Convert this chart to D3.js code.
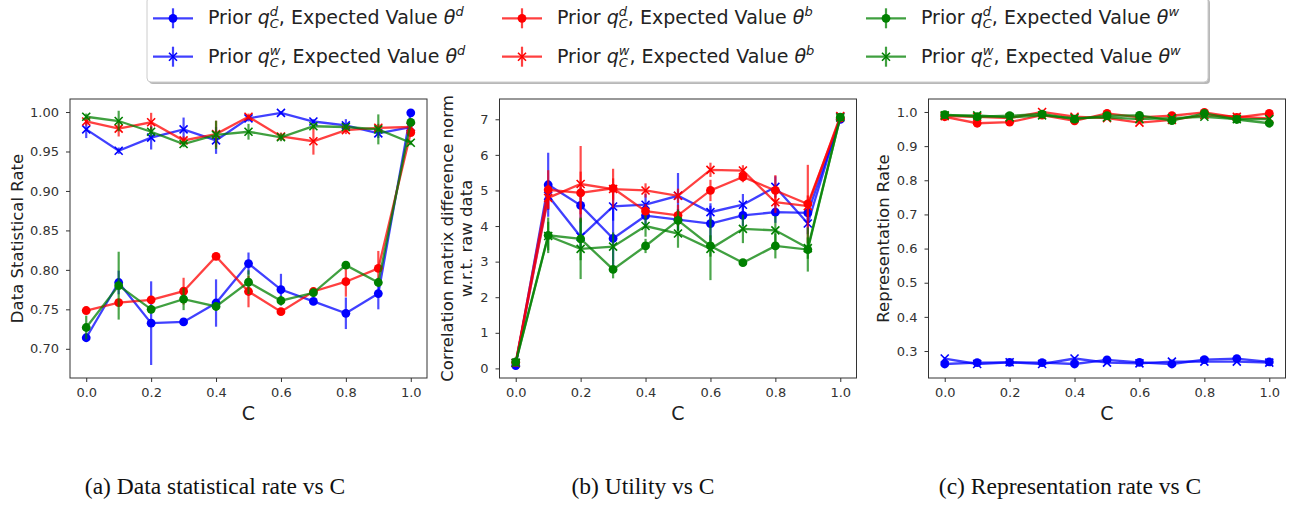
<!DOCTYPE html>
<html>
<head>
<meta charset="utf-8">
<title>Rate / Utility vs C</title>
<script src="https://cdn.jsdelivr.net/npm/d3@7"></script>
<style>
  *{margin:0;padding:0;}
  body{background:#fff;}
  svg{display:block;}
</style>
</head>
<body>
<div id="show"></div>
<script>
// x values shared by every panel
var C = [0, 0.1, 0.2, 0.3, 0.4, 0.5, 0.6, 0.7, 0.8, 0.9, 1.0];
var xTicks = [0, 0.2, 0.4, 0.6, 0.8, 1.0];

// (a) data statistical rate
var dsrBD = [0.714, 0.784, 0.7325, 0.734, 0.758, 0.808, 0.775, 0.760, 0.745, 0.770, 0.999];
var dsrBW = [0.978, 0.951, 0.9675, 0.978, 0.964, 0.992, 0.999, 0.988, 0.983, 0.973, 0.981];
var dsrRD = [0.7485, 0.7586, 0.762, 0.773, 0.817, 0.7726, 0.747, 0.7726, 0.785, 0.802, 0.974];
var dsrRW = [0.988, 0.979, 0.987, 0.964, 0.972, 0.994, 0.969, 0.963, 0.977, 0.980, 0.981];
var dsrGD = [0.727, 0.780, 0.750, 0.763, 0.7536, 0.7844, 0.761, 0.771, 0.806, 0.784, 0.987];
var dsrGW = [0.994, 0.9886, 0.975, 0.9595, 0.971, 0.975, 0.968, 0.982, 0.981, 0.978, 0.961];
var dsrErrBD = [0.005, 0.015, 0.053, 0.004, 0.03, 0.014, 0.02, 0.004, 0.02, 0.02, 0.002];
var dsrErrBW = [0.011, 0.004, 0.015, 0.015, 0.017, 0.004, 0.002, 0.003, 0.008, 0.006, 0.002];
var dsrErrRD = [0.003, 0.004, 0.004, 0.017, 0.003, 0.02, 0.004, 0.003, 0.019, 0.022, 0.004];
var dsrErrRW = [0.005, 0.01, 0.012, 0.005, 0.017, 0.004, 0.005, 0.017, 0.005, 0.005, 0.003];
var dsrErrGD = [0.015, 0.043, 0.005, 0.014, 0.005, 0.015, 0.006, 0.004, 0.004, 0.005, 0.004];
var dsrErrGW = [0.004, 0.013, 0.006, 0.004, 0.018, 0.01, 0.005, 0.004, 0.004, 0.019, 0.003];
var dsrTicks = [0.70, 0.75, 0.80, 0.85, 0.90, 0.95, 1.00];

// (b) utility
var utBD = [0.08, 5.16, 4.58, 3.65, 4.29, 4.18, 4.07, 4.30, 4.39, 4.37, 7.0];
var utBW = [0.15, 4.85, 3.70, 4.55, 4.60, 4.85, 4.39, 4.60, 5.10, 4.07, 7.07];
var utRD = [0.17, 5.02, 4.93, 5.06, 4.42, 4.30, 5.00, 5.38, 5.00, 4.62, 7.03];
var utRW = [0.15, 4.79, 5.18, 5.04, 5.00, 4.85, 5.58, 5.56, 4.67, 4.56, 7.09];
var utGD = [0.18, 3.74, 3.64, 2.78, 3.44, 4.16, 3.44, 2.97, 3.44, 3.34, 7.06];
var utGW = [0.16, 3.72, 3.36, 3.42, 4.00, 3.79, 3.36, 3.92, 3.88, 3.38, 7.05];
var utErrBD = [0.05, 0.9, 0.5, 0.9, 0.35, 0.3, 0.5, 0.3, 0.3, 0.25, 0.05];
var utErrBW = [0.05, 0.4, 0.4, 0.4, 0.3, 0.64, 0.25, 0.3, 0.3, 0.3, 0.05];
var utErrRD = [0.05, 0.55, 0.6, 0.55, 0.2, 0.3, 0.3, 0.15, 0.43, 1.1, 0.05];
var utErrRW = [0.05, 0.3, 1.07, 0.3, 0.2, 0.2, 0.2, 0.15, 0.3, 0.3, 0.05];
var utErrGD = [0.05, 0.5, 0.6, 0.25, 0.2, 0.3, 0.3, 0.1, 0.35, 0.62, 0.05];
var utErrGW = [0.05, 0.4, 0.85, 0.4, 0.3, 0.4, 0.88, 0.4, 0.4, 0.3, 0.05];
var utTicks = [0, 1, 2, 3, 4, 5, 6, 7];

// (c) representation rate
var rrBD = [0.262, 0.266, 0.267, 0.266, 0.262, 0.274, 0.267, 0.262, 0.275, 0.278, 0.268];
var rrBW = [0.278, 0.262, 0.267, 0.262, 0.278, 0.266, 0.264, 0.269, 0.269, 0.269, 0.266];
var rrRD = [0.986, 0.967, 0.970, 0.991, 0.974, 0.996, 0.984, 0.989, 0.999, 0.984, 0.996];
var rrRW = [0.988, 0.986, 0.982, 1.000, 0.986, 0.982, 0.969, 0.977, 0.991, 0.986, 0.981];
var rrGD = [0.992, 0.986, 0.989, 0.994, 0.979, 0.989, 0.990, 0.975, 0.996, 0.978, 0.967];
var rrGW = [0.990, 0.990, 0.984, 0.990, 0.982, 0.984, 0.979, 0.982, 0.986, 0.979, 0.979];
var rrErr = [0.004, 0.004, 0.004, 0.004, 0.004, 0.004, 0.004, 0.004, 0.004, 0.004, 0.004];
var rrTicks = [0.3, 0.4, 0.5, 0.6, 0.7, 0.8, 0.9, 1.0];

// legend entries: colour, marker, prior superscript, theta superscript
var seriesColors = ["#0000ff", "#0000ff", "#ff0000", "#ff0000", "#008000", "#008000"];
var seriesMarkers = ["o", "x", "o", "x", "o", "x"];
var priorSup = ["d", "w", "d", "w", "d", "w"];
var thetaSup = ["d", "d", "b", "b", "w", "w"];

var captions = ["(a) Data statistical rate vs C", "(b) Utility vs C", "(c) Representation rate vs C"];

var svg = d3.select("#show").append("svg")
            .attr("width", 1292)
            .attr("height", 507);
svg.append("rect").attr("width", 1292).attr("height", 507).attr("fill", "#fff");

var top_ = 99, bottom_ = 378;

function drawMarker(g, type, color) {
       if (type == "o") {
              g.append("circle").attr("r", 4.4).attr("fill", color);
       } else {
              g.append("path").attr("d", "M-4,-4L4,4M-4,4L4,-4")
                     .attr("stroke", color).attr("stroke-width", 1.6).attr("fill", "none");
       }
}

function drawPanel(p) {
       var x = d3.scaleLinear().domain([-0.05, 1.05]).range([p.left, p.right]);
       var y = d3.scaleLinear().domain(p.ydom).range([bottom_, top_]);
       var g = svg.append("g");

       // series: error bars, line, markers
       p.series.forEach(function (vals, si) {
              var col = seriesColors[si];
              var errs = p.errs[si];
              var sg = g.append("g");
              sg.selectAll("line.err").data(vals).enter().append("line")
                     .attr("x1", function (d, i) { return x(C[i]); })
                     .attr("x2", function (d, i) { return x(C[i]); })
                     .attr("y1", function (d, i) { return y(d - errs[i]); })
                     .attr("y2", function (d, i) { return y(d + errs[i]); })
                     .attr("stroke", col).attr("stroke-width", 2.2).attr("stroke-opacity", 0.7);
              var line = d3.line().x(function (d, i) { return x(C[i]); }).y(function (d) { return y(d); });
              sg.append("path").attr("d", line(vals)).attr("fill", "none")
                     .attr("stroke", col).attr("stroke-width", 2.3).attr("stroke-opacity", 0.75);
              vals.forEach(function (d, i) {
                     var mg = sg.append("g").attr("transform", "translate(" + x(C[i]) + "," + y(d) + ")");
                     drawMarker(mg, seriesMarkers[si], col);
              });
       });

       // frame
       g.append("rect").attr("x", p.left).attr("y", top_)
              .attr("width", p.right - p.left).attr("height", bottom_ - top_)
              .attr("fill", "none").attr("stroke", "#333").attr("stroke-width", 1);

       var xa = g.append("g").attr("transform", "translate(0," + bottom_ + ")")
              .call(d3.axisBottom(x).tickValues(xTicks).tickFormat(d3.format(".1f")).tickSize(4).tickPadding(6));
       var ya = g.append("g").attr("transform", "translate(" + p.left + ",0)")
              .call(d3.axisLeft(y).tickValues(p.yticks).tickFormat(d3.format(p.yfmt)).tickSize(4).tickPadding(7));
       [xa, ya].forEach(function (a) {
              a.select(".domain").remove();
              a.selectAll(".tick line").attr("stroke", "#333");
              a.selectAll(".tick text").attr("fill", "#333")
                     .style("font-family", "DejaVu Sans").style("font-size", "13px");
       });

       // axis labels
       g.append("text").attr("x", (p.left + p.right) / 2).attr("y", 420)
              .attr("text-anchor", "middle").style("font-family", "DejaVu Sans")
              .style("font-size", "19px").attr("fill", "#222").text("C");
       p.ylabel.forEach(function (t, k) {
              g.append("text")
                     .attr("transform", "translate(" + p.ylabelX[k] + "," + (top_ + bottom_) / 2 + ") rotate(-90)")
                     .attr("text-anchor", "middle").style("font-family", "DejaVu Sans")
                     .style("font-size", "16.5px").attr("fill", "#222").text(t);
       });

       svg.append("text").attr("x", p.capX).attr("y", 494).attr("text-anchor", "middle")
              .style("font-family", "Liberation Serif").style("font-size", "23.5px")
              .attr("fill", "#111").text(p.caption);
}

drawPanel({left: 70, right: 427, ydom: [0.663, 1.0165], yticks: dsrTicks, yfmt: ".2f",
       series: [dsrBD, dsrBW, dsrRD, dsrRW, dsrGD, dsrGW],
       errs: [dsrErrBD, dsrErrBW, dsrErrRD, dsrErrRW, dsrErrGD, dsrErrGW],
       ylabel: ["Data Statistical Rate"], ylabelX: [23], capX: 215, caption: captions[0]});
drawPanel({left: 499.5, right: 856.5, ydom: [-0.27, 7.57], yticks: utTicks, yfmt: "d",
       series: [utBD, utBW, utRD, utRW, utGD, utGW],
       errs: [utErrBD, utErrBW, utErrRD, utErrRW, utErrGD, utErrGW],
       ylabel: ["Correlation matrix difference norm", "w.r.t. raw data"], ylabelX: [453, 472],
       capX: 643, caption: captions[1]});
drawPanel({left: 928.5, right: 1285.5, ydom: [0.221, 1.038], yticks: rrTicks, yfmt: ".1f",
       series: [rrBD, rrBW, rrRD, rrRW, rrGD, rrGW],
       errs: [rrErr, rrErr, rrErr, rrErr, rrErr, rrErr],
       ylabel: ["Representation Rate"], ylabelX: [889], capX: 1070, caption: captions[2]});

// legend
var lg = svg.append("g");
lg.append("rect").attr("x", 149).attr("y", -1).attr("width", 1061).attr("height", 85)
       .attr("rx", 4).attr("fill", "#888").attr("opacity", 0.6);
lg.append("rect").attr("x", 147).attr("y", -3).attr("width", 1061).attr("height", 85)
       .attr("rx", 4).attr("fill", "#fff").attr("stroke", "#ccc");

var colX = [153, 502, 866];
var rowY = [18.3, 56.7];
seriesColors.forEach(function (col, si) {
       var cx = colX[Math.floor(si / 2)], cy = rowY[si % 2];
       var h = lg.append("g").attr("transform", "translate(" + cx + "," + cy + ")");
       h.append("line").attr("x1", 0).attr("x2", 40).attr("stroke", col)
              .attr("stroke-width", 2.3).attr("stroke-opacity", 0.75);
       h.append("line").attr("x1", 20).attr("x2", 20).attr("y1", -10).attr("y2", 10)
              .attr("stroke", col).attr("stroke-width", 2.2).attr("stroke-opacity", 0.75);
       var mg = h.append("g").attr("transform", "translate(20,0)");
       drawMarker(mg, seriesMarkers[si], col);

       var t = lg.append("text").attr("x", cx + 55).attr("y", cy + 6)
              .style("font-family", "DejaVu Sans").style("font-size", "19px").attr("fill", "#222");
       t.append("tspan").text("Prior ");
       t.append("tspan").style("font-style", "italic").text("q");
       var sup = t.append("tspan").style("font-style", "italic").style("font-size", "13px")
              .attr("dy", -8).text(priorSup[si]);
       var supW = sup.node().getComputedTextLength();
       var sub = t.append("tspan").style("font-style", "italic").style("font-size", "13px")
              .attr("dx", -supW).attr("dy", 12).text("C");
       var subW = sub.node().getComputedTextLength();
       t.append("tspan").attr("dy", -4).attr("dx", Math.max(0, supW - subW)).text(", Expected Value ");
       t.append("tspan").style("font-style", "italic").text("θ");
       t.append("tspan").style("font-style", "italic").style("font-size", "13px")
              .attr("dy", -8).text(thetaSup[si]);
});
</script>
</body>
</html>
